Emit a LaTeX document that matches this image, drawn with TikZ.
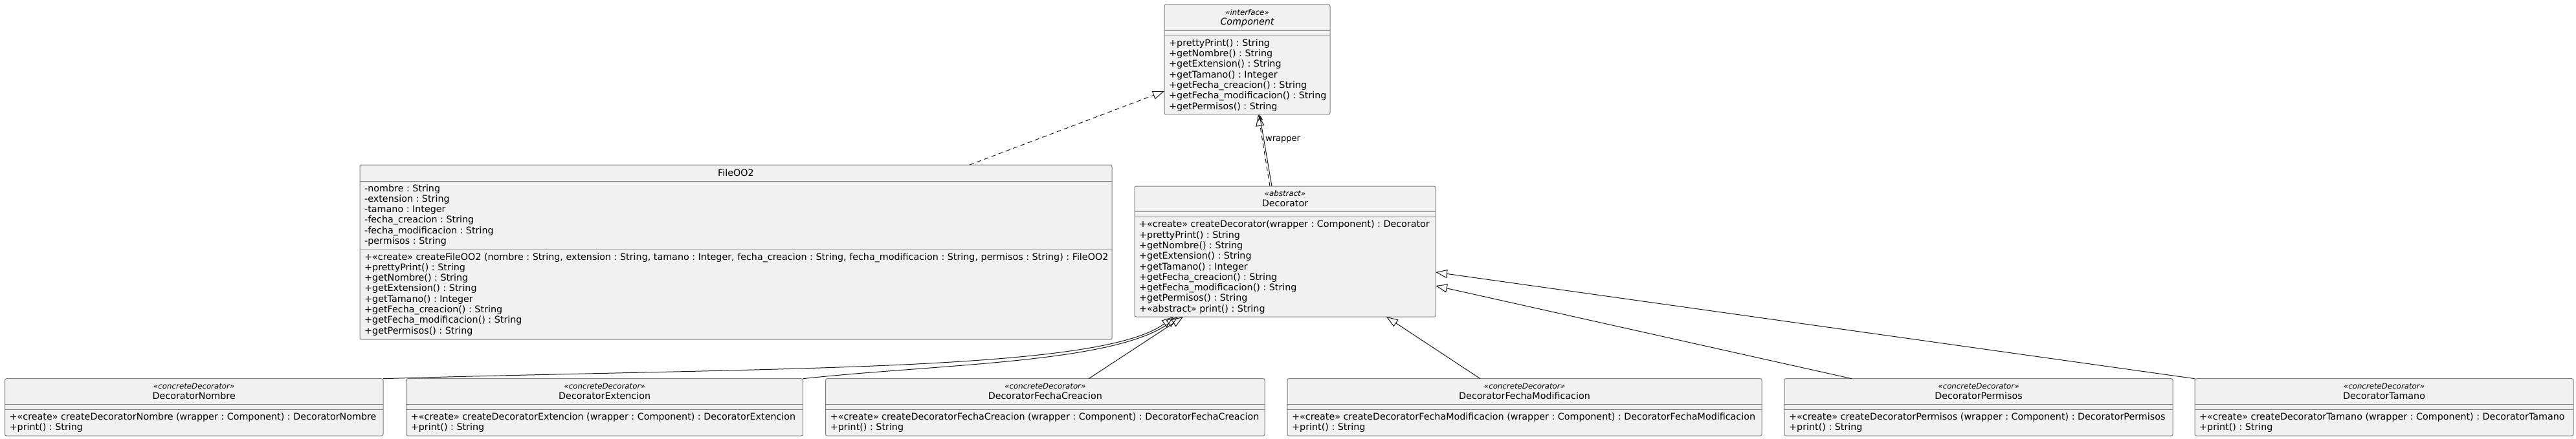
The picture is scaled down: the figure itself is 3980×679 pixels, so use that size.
\documentclass[tikz,border=0pt]{standalone}
\usepackage{fontspec}
\setmainfont{DejaVu Sans}[ItalicFont={DejaVu Sans Oblique}]
\usetikzlibrary{arrows.meta}
\definecolor{boxfill}{HTML}{F1F1F1}
\definecolor{boxline}{HTML}{7F7F7F}
\definecolor{edge}{HTML}{181818}
\newcommand\lst{\rule[-3.5pt]{0pt}{14.5pt}}
\frenchspacing
\tikzset{
 cls/.style={draw=boxline, fill=boxfill, line width=1pt, rounded corners=2.5pt, anchor=north west, inner sep=0pt, outer sep=0pt},
 sepline/.style={draw=boxline, line width=1pt},
 stereo/.style={inner sep=0pt, font=\fontsize{11.8}{13}\selectfont\itshape},
 cname/.style={inner sep=0pt, font=\fontsize{14.3}{16}\selectfont},
 cnameit/.style={inner sep=0pt, font=\fontsize{14.3}{16}\selectfont\itshape},
 members/.style={inner sep=0pt, anchor=west, align=left, font=\fontsize{14.3}{16.3}\selectfont\frenchspacing},
 lbl/.style={inner sep=0pt, font=\fontsize{13}{15}\selectfont},
 realize/.style={draw=edge, line width=1pt, dash pattern=on 7pt off 5pt, -{Triangle[open, length=18pt, width=13pt]}},
 inherit/.style={draw=edge, line width=1pt, -{Triangle[open, length=18pt, width=13pt]}},
 assoc/.style={draw=edge, line width=1pt, -{Stealth[length=10pt, width=8pt]}},
}
\begin{document}
\begin{tikzpicture}[x=1pt,y=-1pt]
\useasboundingbox (0,0) rectangle (3980,679);

% Component
\node[cls, minimum width=256pt, minimum height=170pt] (comp) at (1799,7) {};
\node[stereo] (compst) at (1927,19) {«interface»};
\node[cnameit] (compnm) at (1927,34.3) {Component};
\draw[sepline] ([yshift=-40.7pt]comp.north west) -- ([yshift=-40.7pt]comp.north east);
\draw[sepline] ([yshift=-48.7pt]comp.north west) -- ([yshift=-48.7pt]comp.north east);
\node[members] (compm) at (1806,116.45) {\lst+prettyPrint() : String\\
+getNombre() : String\\
+getExtension() : String\\
+getTamano() : Integer\\
+getFecha\_creacion() : String\\
+getFecha\_modificacion() : String\\
\lst+getPermisos() : String};

% FileOO2
\node[cls, minimum width=1162pt, minimum height=270pt] (file) at (556,255) {};
\node[cname] (filenm) at (1137,267.3) {FileOO2};
\draw[sepline] ([yshift=-25.7pt]file.north west) -- ([yshift=-25.7pt]file.north east);
\node[members] (filea) at (563,333.05) {\lst-nombre : String\\
-extension : String\\
-tamano : Integer\\
-fecha\_creacion : String\\
-fecha\_modificacion : String\\
\lst-permisos : String};
\draw[sepline] ([yshift=-131pt]file.north west) -- ([yshift=-131pt]file.north east);
\node[members] (filem) at (563,455.35) {\lst+«create» createFileOO2 (nombre : String, extension : String, tamano : Integer, fecha\_creacion : String, fecha\_modificacion : String, permisos : String) : FileOO2\\
+prettyPrint() : String\\
+getNombre() : String\\
+getExtension() : String\\
+getTamano() : Integer\\
+getFecha\_creacion() : String\\
+getFecha\_modificacion() : String\\
\lst+getPermisos() : String};

% Decorator
\node[cls, minimum width=465pt, minimum height=202pt] (dec) at (1753,288) {};
\node[stereo] (decst) at (1985.5,299.3) {«abstract»};
\node[cname] (decnm) at (1985.5,314) {Decorator};
\draw[sepline] ([yshift=-39.3pt]dec.north west) -- ([yshift=-39.3pt]dec.north east);
\draw[sepline] ([yshift=-47pt]dec.north west) -- ([yshift=-47pt]dec.north east);
\node[members] (decm) at (1760,413.3) {\lst+«create» createDecorator(wrapper : Component) : Decorator\\
+prettyPrint() : String\\
+getNombre() : String\\
+getExtension() : String\\
+getTamano() : Integer\\
+getFecha\_creacion() : String\\
+getFecha\_modificacion() : String\\
+getPermisos() : String\\
\lst+«abstract» print() : String};

% concrete decorators
\foreach \id/\xx/\ww/\nm in {bn/7.5/584.5/Nombre, be/627.7/612.9/Extencion, bfc/1275.6/678.4/FechaCreacion, bfm/1989/733/FechaModificacion, bp/2757/600/Permisos, bt/3391/585/Tamano}{
  \node[cls, minimum width=\ww pt, minimum height=88.3pt] (\id) at (\xx,585.7) {};
  \node[stereo] (\id st) at ([yshift=-11.3pt]\id.north) {«concreteDecorator»};
  \node[cname] (\id nm) at ([yshift=-26.8pt]\id.north) {Decorator\nm};
  \draw[sepline] ([yshift=-39.6pt]\id.north west) -- ([yshift=-39.6pt]\id.north east);
  \draw[sepline] ([yshift=-47.6pt]\id.north west) -- ([yshift=-47.6pt]\id.north east);
  \node[members] (\id m) at ([xshift=7pt,yshift=-68.15pt]\id.north west) {\lst+«create» createDecorator\nm\space(wrapper : Component) : Decorator\nm\\
\lst+print() : String};
}

% connectors
\draw[realize] ([xshift=942pt]file.north west) -- ([yshift=-134pt]comp.north west);
\draw[realize] ([xshift=209pt]dec.north west) -- ([xshift=145pt]comp.south west);
\draw[assoc] ([xshift=212pt]dec.north west) -- ([xshift=147pt]comp.south west);
\node[lbl, anchor=west] (wrap) at (1955,216) {wrapper};

\draw[inherit] (bn.north east) .. controls (1200,568) and (1700,575) .. ([xshift=60pt]dec.south west);
\draw[inherit] (be.north east) .. controls (1450,563) and (1720,562) .. ([xshift=67pt]dec.south west);
\draw[inherit] ([xshift=406.4pt]bfc.north west) -- ([xshift=75pt]dec.south west);
\draw[inherit] ([xshift=298pt]bfm.north west) -- ([xshift=389pt]dec.south west);
\draw[inherit] ([xshift=104pt]bp.north west) -- ([yshift=-154pt]dec.north east);
\draw[inherit] (bt.north west) -- ([yshift=-133pt]dec.north east);
\end{tikzpicture}
\end{document}
